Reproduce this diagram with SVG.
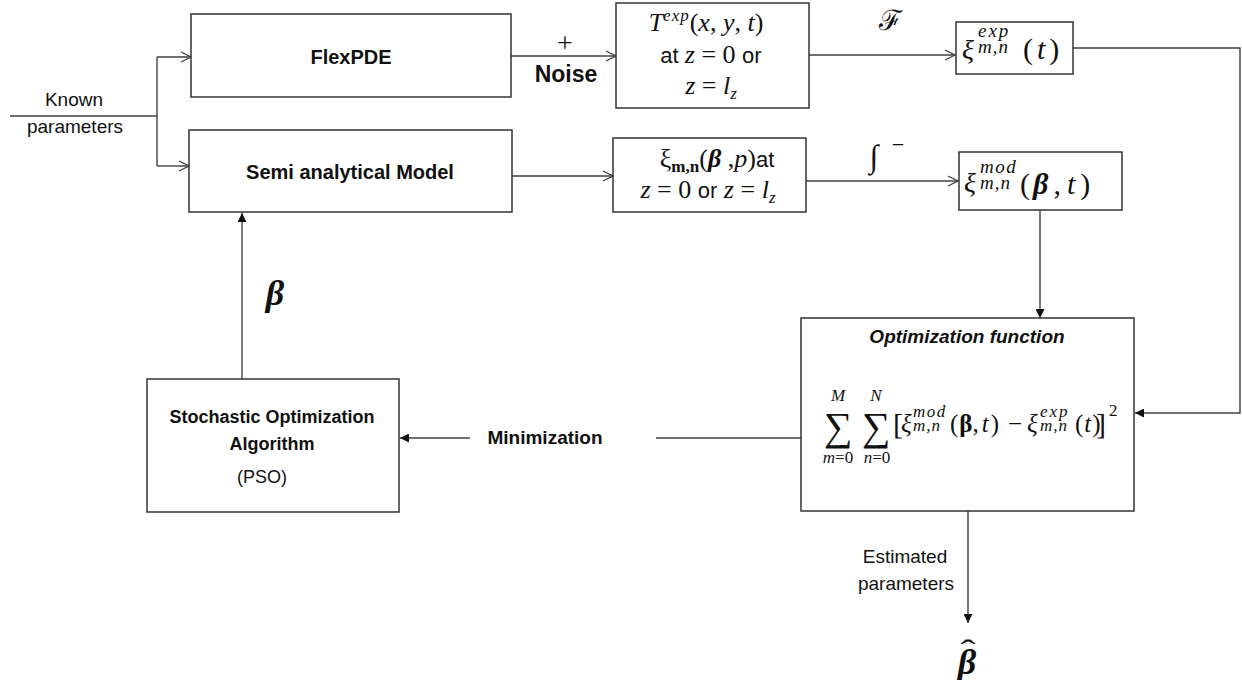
<svg xmlns="http://www.w3.org/2000/svg" width="1242" height="680" viewBox="0 0 1242 680">
<style>
.box{fill:#fff;stroke:#333;stroke-width:1.5}
.ln{fill:none;stroke:#404040;stroke-width:1.4}
.s{font-family:"Liberation Sans",Arial,sans-serif;fill:#111}
.b{font-weight:bold}
.m{font-family:"Liberation Serif","Times New Roman",serif;font-style:italic;fill:#111}
.r{font-family:"Liberation Serif","Times New Roman",serif;fill:#111}
</style>
<defs>
<marker id="open" viewBox="0 0 12 12" refX="11" refY="6" markerWidth="12" markerHeight="12" markerUnits="userSpaceOnUse" orient="auto">
<path d="M1,1 L11,6 L1,11" fill="none" stroke="#404040" stroke-width="1.3"/>
</marker>
<marker id="fill" viewBox="0 0 10 10" refX="10" refY="5" markerWidth="9" markerHeight="9" markerUnits="userSpaceOnUse" orient="auto">
<path d="M0,0 L10,5 L0,10 Z" fill="#111"/>
</marker>
</defs>

<g id="connectors">
<path class="ln" d="M10,116 H157"/>
<path class="ln" d="M157,57 V166"/>
<path class="ln" d="M157,57 H191" marker-end="url(#open)"/>
<path class="ln" d="M157,166 H189" marker-end="url(#open)"/>
<path class="ln" d="M511,56 H616" marker-end="url(#open)"/>
<path class="ln" d="M809,55 H955" marker-end="url(#open)"/>
<path class="ln" d="M512,176 H613" marker-end="url(#open)"/>
<path class="ln" d="M806,181 H958" marker-end="url(#open)"/>
<path class="ln" d="M1073,48 H1240 V413 H1135" marker-end="url(#fill)"/>
<path class="ln" d="M1040,210 V318" marker-end="url(#fill)"/>
<path class="ln" d="M801,438 H656"/>
<path class="ln" d="M470,438 H400" marker-end="url(#fill)"/>
<path class="ln" d="M242,379 V213" marker-end="url(#fill)"/>
<path class="ln" d="M968,511 V623" marker-end="url(#fill)"/>
</g>

<g id="label-known">
<text class="s" x="74" y="106" font-size="19" text-anchor="middle">Known</text>
<text class="s" x="75" y="133" font-size="19" text-anchor="middle">parameters</text>
</g>
<g id="label-noise">
<text class="r" x="565" y="52" font-size="28" text-anchor="middle">+</text>
<text class="s b" x="566" y="82" font-size="23" text-anchor="middle">Noise</text>
</g>
<g id="label-F">
<text class="r" x="890" y="30" font-size="28" text-anchor="middle">ℱ</text>
</g>
<g id="label-int">
<text class="r" x="874" y="167" font-size="32" text-anchor="middle">∫</text>
<text class="r" x="898" y="152" font-size="22" text-anchor="middle">−</text>
</g>
<g id="label-beta">
<text class="m b" x="275" y="305" font-size="36" text-anchor="middle">β</text>
</g>
<g id="label-min">
<text class="s b" x="545" y="444" font-size="19" text-anchor="middle">Minimization</text>
</g>
<g id="label-est">
<text class="s" x="905" y="563" font-size="19" text-anchor="middle">Estimated</text>
<text class="s" x="906" y="590" font-size="19" text-anchor="middle">parameters</text>
</g>
<g id="label-betahat">
<text class="m b" x="967" y="674" font-size="36" text-anchor="middle">β</text>
<text class="r" x="968" y="660" font-size="30" text-anchor="middle" transform="translate(968,0) scale(1.5,1) translate(-968,0)">ˆ</text>
</g>

<g id="flexpde">
<rect class="box" x="191" y="14" width="320" height="83"/>
<text class="s b" x="351" y="64" font-size="20" text-anchor="middle">FlexPDE</text>
</g>

<g id="semi">
<rect class="box" x="189" y="130" width="323" height="82"/>
<text class="s b" x="350" y="179" font-size="20" text-anchor="middle">Semi analytical Model</text>
</g>

<g id="texp">
<rect class="box" x="616" y="3" width="193" height="105"/>
<text class="m" x="706" y="31" font-size="26" text-anchor="middle">T<tspan font-size="17" dy="-10" letter-spacing="1">exp</tspan><tspan dy="10" font-style="normal">(</tspan>x<tspan font-style="normal">, </tspan>y<tspan font-style="normal">, </tspan>t<tspan font-style="normal">)</tspan></text>
<text class="s" x="711" y="63" font-size="22" text-anchor="middle">at <tspan class="m" font-size="26">z</tspan><tspan class="r" font-size="26"> = 0 </tspan>or</text>
<text class="m" x="711" y="94" font-size="26" text-anchor="middle">z <tspan font-style="normal"> = </tspan> l<tspan font-size="17" dy="5">z</tspan></text>
</g>

<g id="xi-model">
<rect class="box" x="613" y="138" width="193" height="74"/>
<text class="r" x="717" y="167" font-size="26" text-anchor="middle">ξ<tspan font-size="17" font-weight="bold" dy="5">m,n</tspan><tspan dy="-5">(</tspan><tspan font-weight="bold" font-style="italic">β</tspan> ,<tspan font-style="italic">p</tspan>)<tspan class="s" font-size="22">at</tspan></text>
<text class="m" x="708" y="198" font-size="26" text-anchor="middle">z <tspan font-style="normal">= 0</tspan> <tspan class="s" font-style="normal" font-size="22">or</tspan> z <tspan font-style="normal">=</tspan> l<tspan font-size="17" dy="5">z</tspan></text>
</g>

<g id="xi-exp">
<rect class="box" x="956" y="22" width="117" height="52"/>
<text class="m" x="962" y="59" font-size="28">ξ</text>
<text class="m" x="978" y="37" font-size="19" letter-spacing="2">exp</text>
<text class="m" x="978" y="53" font-size="19" letter-spacing="1">m,n</text>
<text class="m" x="1023" y="59" font-size="30"><tspan font-style="normal">(</tspan><tspan dx="4">t</tspan><tspan dx="4" font-style="normal">)</tspan></text>
</g>

<g id="xi-mod">
<rect class="box" x="959" y="152" width="163" height="58"/>
<text class="m" x="964" y="192" font-size="28">ξ</text>
<text class="m" x="980" y="173" font-size="19" letter-spacing="1.5">mod</text>
<text class="m" x="980" y="189" font-size="19" letter-spacing="1">m,n</text>
<text class="m" x="1020" y="194" font-size="30"><tspan font-style="normal">(</tspan><tspan font-weight="bold" dx="3">β</tspan><tspan dx="5" font-style="normal">,</tspan><tspan dx="6">t</tspan><tspan dx="5" font-style="normal">)</tspan></text>
</g>

<g id="optimization">
<rect class="box" x="801" y="318" width="333" height="193"/>
<text class="s b" x="967" y="343" font-size="19" font-style="italic" text-anchor="middle">Optimization function</text>
<text class="r" x="838" y="440" font-size="40" text-anchor="middle">∑</text>
<text class="r" x="876" y="440" font-size="40" text-anchor="middle">∑</text>
<text class="m" x="838" y="401" font-size="17" text-anchor="middle">M</text>
<text class="m" x="876" y="401" font-size="17" text-anchor="middle">N</text>
<text class="m" x="838" y="463" font-size="17" text-anchor="middle">m<tspan font-style="normal">=0</tspan></text>
<text class="m" x="877" y="463" font-size="17" text-anchor="middle">n<tspan font-style="normal">=0</tspan></text>
<text class="r" x="893" y="434" font-size="30">[</text>
<text class="m" x="901" y="432" font-size="25">ξ</text>
<text class="m" x="913" y="417" font-size="17" letter-spacing="1.5">mod</text>
<text class="m" x="913" y="431" font-size="17" letter-spacing="1">m,n</text>
<text class="r" x="950" y="432" font-size="25">(<tspan font-weight="bold" dx="1">β</tspan>,<tspan font-style="italic" dx="3">t</tspan><tspan dx="2">)</tspan></text>
<text class="r" x="1008" y="432" font-size="25">−</text>
<text class="m" x="1027" y="432" font-size="25">ξ</text>
<text class="m" x="1040" y="417" font-size="17" letter-spacing="2">exp</text>
<text class="m" x="1040" y="431" font-size="17" letter-spacing="1">m,n</text>
<text class="r" x="1075" y="432" font-size="25">(<tspan font-style="italic" dx="1">t</tspan><tspan dx="1">)</tspan></text>
<text class="r" x="1096" y="434" font-size="30">]</text>
<text class="r" x="1109" y="416" font-size="17">2</text>
</g>

<g id="stochastic">
<rect class="box" x="147" y="379" width="252" height="133"/>
<text class="s b" x="272" y="423" font-size="18" text-anchor="middle">Stochastic Optimization</text>
<text class="s b" x="272" y="450" font-size="18" text-anchor="middle">Algorithm</text>
<text class="s" x="262" y="483" font-size="18" text-anchor="middle">(PSO)</text>
</g>
</svg>
